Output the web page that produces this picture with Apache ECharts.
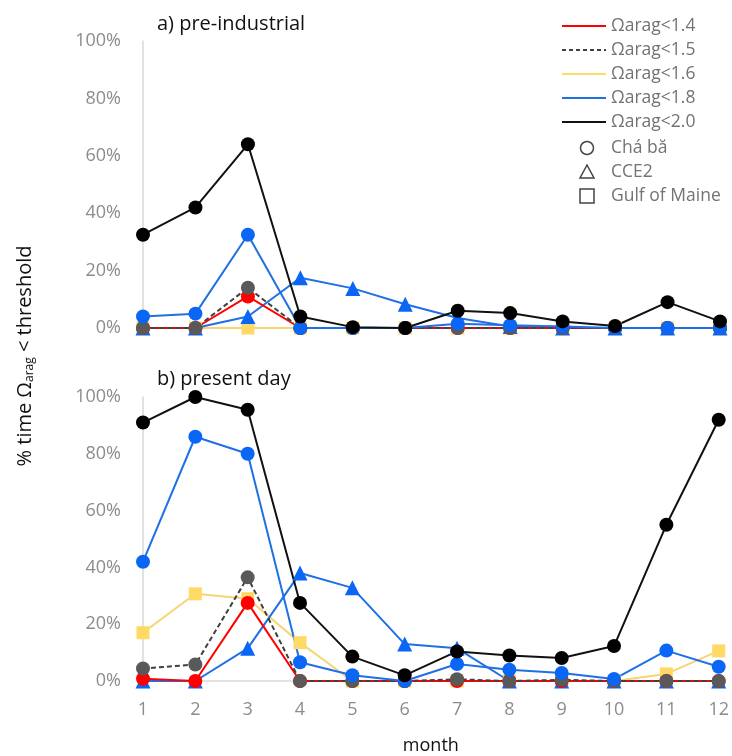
<!DOCTYPE html>
<html>
<head>
<meta charset="utf-8">
<script src="https://cdn.jsdelivr.net/npm/echarts@6/dist/echarts.min.js"></script>
<style>
  html, body { margin: 0; padding: 0; background: #fff; }
  #chart { width: 732px; height: 756px; }
</style>
</head>
<body>
<div id="chart"></div>
<script>
const months = ['1', '2', '3', '4', '5', '6', '7', '8', '9', '10', '11', '12'];

// a) pre-industrial, % time below threshold
const pre_chaba14 = [0, 0, 11, 0, 0, 0, 0, 0, 0, 0, 0, 0];
const pre_chaba15 = [0, 0, 14, 0, 0, 0, 0, 0, 0, 0, 0, 0];
const pre_chaba18 = [4, 5, 32.5, 0, 0, 0, 1.5, 1, 0.5, 0, 0, 0];
const pre_chaba20 = [32.5, 42, 64, 4, 0.3, 0, 6, 5.2, 2.3, 0.7, 9, 2.3];
const pre_cce18 = [0, 0, 4, 17.5, 13.8, 8.3, 3.5, 0.5, 0, 0, 0, 0];
const pre_gom16 = [0, 0, 0, 0, 0, 0, 0, 0, 0, 0, 0, 0];

// b) present day
const pd_chaba14 = [0.8, 0, 27.5, 0, 0, 0, 0, 0, 0, 0, 0, 0];
const pd_chaba15 = [4.4, 5.8, 36.5, 0, 0, 0, 0.6, 0, 0.4, 0, 0, 0];
const pd_chaba18 = [42, 86, 80, 6.6, 2, 0, 6, 4, 2.8, 0.7, 10.7, 5];
const pd_chaba20 = [91, 100, 95.5, 27.5, 8.6, 2, 10.4, 9, 8.1, 12.3, 55, 92];
const pd_cce18 = [0, 0, 11.5, 38, 32.8, 13, 11.5, 0, 0, 0, 0, 0];
const pd_gom16 = [17, 30.7, 29, 13.5, 0, 0, 0, 0, 0, 0, 2.5, 10.6];

const yTicks = [0, 20, 40, 60, 80, 100];

const RED = '#FF0000', GREY = '#595959', YEL = '#FFD966', BLUE = '#0A66F5', BLK = '#000000';
const FONT = 'Open Sans';

function line(name, idx, data, color, symbol, size, dashed, lineColor) {
  return {
    name: name, type: 'line', xAxisIndex: idx, yAxisIndex: idx,
    data: data, symbol: symbol, symbolSize: size,
    itemStyle: { color: color },
    lineStyle: { color: lineColor || color, width: 2, type: dashed ? [5, 3] : 'solid' },
    emphasis: { disabled: true }
  };
}

// drawing order: first is bottom-most
function panel(idx, d) {
  return [
    line('Gulf of Maine Ωarag<1.6', idx, d[5], YEL, 'rect', 13, false, '#F8D470'),
    line('CCE2 Ωarag<1.8', idx, d[4], BLUE, 'triangle', 15, false, '#1F6FE5'),
    line('Chá bă Ωarag<1.4', idx, d[0], RED, 'circle', 14, false),
    line('Chá bă Ωarag<1.5', idx, d[1], GREY, 'circle', 14, true, '#404040'),
    line('Chá bă Ωarag<1.8', idx, d[2], BLUE, 'circle', 14, false, '#1F6FE5'),
    line('Chá bă Ωarag<2.0', idx, d[3], BLK, 'circle', 14, false, '#111')
  ];
}

const legendLines = [
  ['Ωarag<1.4', RED, false],
  ['Ωarag<1.5', '#404040', true],
  ['Ωarag<1.6', YEL, false],
  ['Ωarag<1.8', '#1F6FE5', false],
  ['Ωarag<2.0', '#111', false]
];
const legendSites = [['Chá bă', 'circle'], ['CCE2', 'triangle'], ['Gulf of Maine', 'rect']];

const graphics = [];
legendLines.forEach(function (l, i) {
  const y = 26 + i * 24;
  graphics.push({ type: 'line', shape: { x1: 562, y1: y, x2: 606, y2: y },
    style: { stroke: l[1], lineWidth: 2, lineDash: l[2] ? [4, 3] : null } });
  graphics.push({ type: 'text', x: 611, y: y, style: { text: l[0], fill: '#737373',
    font: '17.5px "' + FONT + '"', textVerticalAlign: 'middle' } });
});
legendSites.forEach(function (s, i) {
  const y = 148 + i * 24;
  let shape;
  if (s[1] === 'circle') shape = { type: 'circle', shape: { cx: 587, cy: y, r: 6.5 } };
  else if (s[1] === 'triangle') shape = { type: 'polygon', shape: { points: [[587, y - 7], [580, y + 6], [594, y + 6]] } };
  else shape = { type: 'rect', shape: { x: 580, y: y - 7, width: 14, height: 14 } };
  shape.style = { fill: 'none', stroke: '#444', lineWidth: 1.5 };
  graphics.push(shape);
  graphics.push({ type: 'text', x: 611, y: y, style: { text: s[0], fill: '#737373',
    font: '17.5px "' + FONT + '"', textVerticalAlign: 'middle' } });
});
graphics.push({ type: 'text', x: 157, y: 24, style: { text: 'a) pre-industrial', fill: '#111',
  font: '20px "' + FONT + '"', textVerticalAlign: 'middle' } });
graphics.push({ type: 'text', x: 157, y: 379, style: { text: 'b) present day', fill: '#111',
  font: '20px "' + FONT + '"', textVerticalAlign: 'middle' } });
graphics.push({
  type: 'text', x: 25, y: 356, rotation: Math.PI / 2,
  style: {
    text: '% time Ω{s|arag} < threshold',
    rich: { s: { fontSize: 12, fontFamily: FONT, fill: '#111', verticalAlign: 'bottom', padding: [9, 0, 0, 0] } },
    fill: '#111', font: '20px "' + FONT + '"', align: 'center', verticalAlign: 'middle'
  }
});

function xAxis(idx, showLabel) {
  return {
    type: 'category', gridIndex: idx, data: months, boundaryGap: false,
    axisLine: { lineStyle: { color: '#D9D9D9', width: 1.5 } },
    axisTick: { show: false },
    axisLabel: { show: showLabel, color: '#8C8C8C', fontFamily: FONT, fontSize: 18, margin: 20 },
    name: showLabel ? 'month' : '', nameLocation: 'middle', nameGap: 56,
    nameTextStyle: { color: '#111', fontFamily: FONT, fontSize: 18 }
  };
}
function yAxis(idx) {
  return {
    type: 'value', gridIndex: idx, min: yTicks[0], max: yTicks[yTicks.length - 1], interval: 20,
    axisLine: { show: true, lineStyle: { color: '#D9D9D9', width: 1.5 } },
    axisTick: { show: false }, splitLine: { show: false },
    axisLabel: { formatter: '{value}%', color: '#8C8C8C', fontFamily: FONT, fontSize: 18, margin: 22 }
  };
}

const chart = echarts.init(document.getElementById('chart'));
chart.setOption({
  animation: false,
  grid: [
    { left: 143, right: 12, top: 41, height: 287 },
    { left: 143, right: 12, top: 397, height: 288 }
  ],
  xAxis: [xAxis(0, false), xAxis(1, true)],
  yAxis: [yAxis(0), yAxis(1)],
  series: panel(0, [pre_chaba14, pre_chaba15, pre_chaba18, pre_chaba20, pre_cce18, pre_gom16])
    .concat(panel(1, [pd_chaba14, pd_chaba15, pd_chaba18, pd_chaba20, pd_cce18, pd_gom16])),
  graphic: graphics
});
</script>
</body>
</html>
